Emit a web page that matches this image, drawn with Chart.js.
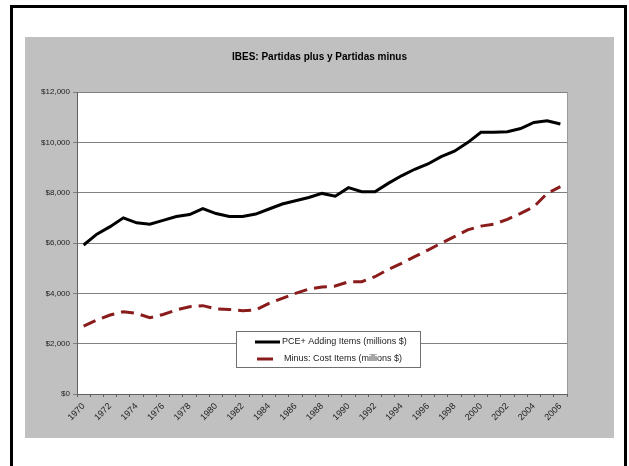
<!DOCTYPE html>
<html lang="es">
<head>
<meta charset="utf-8">
<title>IBES: Partidas plus y Partidas minus</title>
<script src="https://cdn.jsdelivr.net/npm/chart.js@4/dist/chart.umd.min.js"></script>
<style>
  html, body { margin: 0; padding: 0; background: #fff; width: 629px; height: 466px; overflow: hidden; }
  #marco { position: absolute; left: 10px; top: 5px; width: 617px; height: 480px; border: 3px solid #000; box-sizing: border-box; }
  #panel { position: absolute; left: 25px; top: 37px; width: 589px; height: 401px; background: #c0c0c0; }
  #grafico { display: block; }
</style>
</head>
<body>
<div id="marco"></div>
<div id="panel"><canvas id="grafico" width="589" height="401"></canvas></div>
<script>
const anios = [
  "1970", "1971", "1972", "1973", "1974", "1975", "1976", "1977", "1978", "1979",
  "1980", "1981", "1982", "1983", "1984", "1985", "1986", "1987", "1988", "1989",
  "1990", "1991", "1992", "1993", "1994", "1995", "1996", "1997", "1998", "1999",
  "2000", "2001", "2002", "2003", "2004", "2005", "2006",
];

// PCE+ Adding Items (millones $)
const partidasPlus = [
  5920, 6350, 6650, 7000, 6800, 6750, 6900, 7050, 7130, 7370,
  7170, 7050, 7050, 7150, 7350, 7550, 7680, 7810, 7970, 7860,
  8200, 8040, 8040, 8370, 8670, 8930, 9140, 9430, 9650, 9990,
  10400, 10400, 10420, 10550, 10790, 10860, 10730,
];

// Minus: Cost Items (millones $)
const partidasMinus = [
  2700, 2940, 3140, 3270, 3200, 3030, 3160, 3340, 3470, 3510,
  3380, 3360, 3310, 3340, 3600, 3800, 4000, 4170, 4250, 4290,
  4460, 4460, 4660, 4950, 5190, 5460, 5720, 5990, 6250, 6520,
  6670, 6750, 6940, 7180, 7440, 7970, 8240,
];

const etiquetasSeries = [
  "PCE+ Adding Items (millions $)",
  "Minus: Cost Items (millions $)",
];

const ticksY = [0, 2000, 4000, 6000, 8000, 10000, 12000];

const titulo = "IBES: Partidas plus y Partidas minus";

const fuente = "Arial, 'Liberation Sans', sans-serif";

const formatearDolares = (valor) => "$" + Number(valor).toLocaleString("en-US");

// fondo blanco del area de trazado, borde gris y titulo centrado en el panel
const fondoArea = {
  id: "fondoArea",
  beforeDraw: (chart) => {
    const { ctx, chartArea: a } = chart;
    ctx.save();
    ctx.fillStyle = "#fff";
    ctx.fillRect(a.left, a.top, a.right - a.left, a.bottom - a.top);
    ctx.restore();
  },
  afterDatasetsDraw: (chart) => {
    const { ctx, chartArea: a } = chart;
    ctx.save();
    ctx.strokeStyle = "#9a9a9a";
    ctx.lineWidth = 1;
    ctx.beginPath();
    ctx.moveTo(a.right + 0.5, a.top);
    ctx.lineTo(a.right + 0.5, a.bottom);
    ctx.stroke();
    ctx.font = "bold 10px " + fuente;
    ctx.fillStyle = "#000";
    ctx.textAlign = "center";
    ctx.textBaseline = "middle";
    ctx.fillText(titulo, chart.width / 2, 20);
    ctx.restore();
  },
};

// leyenda tipo Excel dentro del area de trazado
const leyendaCaja = {
  id: "leyendaCaja",
  afterDraw: (chart) => {
    const { ctx } = chart;
    const caja = { x: 211, y: 294, w: 184, h: 36 };
    ctx.save();
    ctx.fillStyle = "#fff";
    ctx.fillRect(caja.x, caja.y, caja.w, caja.h);
    ctx.strokeStyle = "#707070";
    ctx.lineWidth = 1;
    ctx.strokeRect(caja.x + 0.5, caja.y + 0.5, caja.w, caja.h);
    ctx.font = "9px " + fuente;
    ctx.textBaseline = "middle";
    chart.data.datasets.forEach((ds, i) => {
      const y = caja.y + 11 + i * 17;
      ctx.strokeStyle = ds.borderColor;
      ctx.lineWidth = ds.borderWidth;
      ctx.setLineDash([]);
      ctx.beginPath();
      if (ds.borderDash && ds.borderDash.length) {
        ctx.moveTo(caja.x + 21, y);
        ctx.lineTo(caja.x + 37, y);
      } else {
        ctx.moveTo(caja.x + 19, y);
        ctx.lineTo(caja.x + 44, y);
      }
      ctx.stroke();
      ctx.fillStyle = "#222";
      ctx.fillText(ds.label, caja.x + (i === 0 ? 46 : 48), y);
    });
    ctx.restore();
  },
};

new Chart(document.querySelector("#grafico"), {
  type: "line",
  data: {
    labels: anios,
    datasets: [
      {
        label: etiquetasSeries[0],
        data: partidasPlus,
        borderColor: "#000",
        borderWidth: 3,
        pointRadius: 0,
        tension: 0,
        fill: false,
      },
      {
        label: etiquetasSeries[1],
        data: partidasMinus,
        borderColor: "#8a1c1c",
        borderWidth: 3,
        borderDash: [13, 7],
        pointRadius: 0,
        tension: 0,
        fill: false,
      },
    ],
  },
  options: {
    responsive: false,
    animation: false,
    layout: { padding: { left: 0, right: 47, top: 55, bottom: 0 } },
    plugins: {
      legend: { display: false },
      tooltip: { enabled: false },
      title: { display: false },
    },
    scales: {
      x: {
        type: "category",
        offset: true,
        afterFit: (escala) => { escala.height = 44; },
        grid: {
          offset: true,
          drawOnChartArea: false,
          drawTicks: true,
          tickLength: 3,
          color: "#606060",
        },
        border: { display: true, color: "#606060", width: 1 },
        ticks: {
          autoSkip: false,
          minRotation: 45,
          maxRotation: 45,
          padding: 4,
          color: "#222",
          font: { family: fuente, size: 9 },
          callback: (valor, indice) => (indice % 2 === 0 ? anios[indice] : ""),
        },
      },
      y: {
        min: ticksY[0],
        max: ticksY[ticksY.length - 1],
        afterFit: (escala) => { escala.width = 52; },
        afterBuildTicks: (escala) => {
          escala.ticks = ticksY.map((v) => ({ value: v }));
        },
        grid: {
          color: "#808080",
          drawTicks: true,
          tickLength: 4,
        },
        border: { display: true, color: "#606060", width: 1 },
        ticks: {
          padding: 3,
          color: "#222",
          font: { family: fuente, size: 8 },
          callback: (valor) => formatearDolares(valor),
        },
      },
    },
  },
  plugins: [fondoArea, leyendaCaja],
});
</script>
</body>
</html>
